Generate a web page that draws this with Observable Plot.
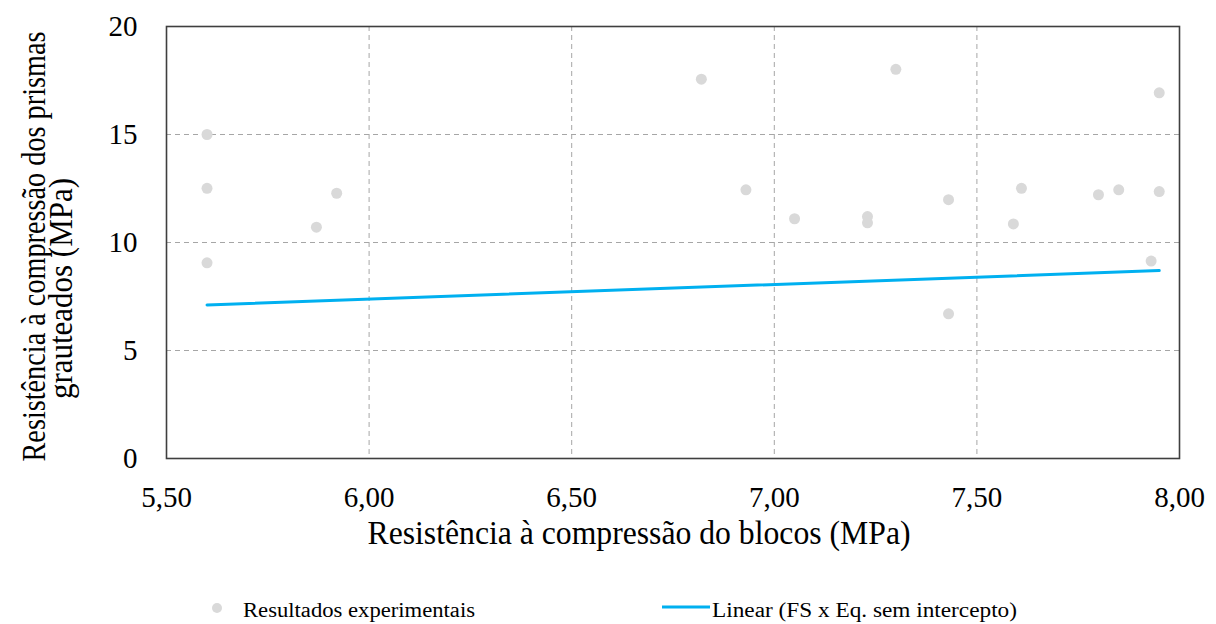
<!DOCTYPE html>
<html>
<head>
<meta charset="utf-8">
<script src="https://cdn.jsdelivr.net/npm/d3@7"></script>
<script src="https://cdn.jsdelivr.net/npm/@observablehq/plot@0.6"></script>
<style>
  html, body { margin: 0; padding: 0; background: #fff; }
  #chart svg { display: block; }
</style>
</head>
<body>
<div id="chart"></div>
<script>
// Block compressive strength (MPa) vs grouted prism compressive strength (MPa)
const blockStrength = [5.60, 5.60, 5.60, 5.87, 5.92, 6.82, 6.93, 7.05, 7.23, 7.23,
                       7.30, 7.43, 7.43, 7.59, 7.61, 7.80, 7.85, 7.95, 7.95, 7.93];
const prismStrength = [15.00, 12.51, 9.06, 10.71, 12.28, 17.56, 12.44, 11.10, 11.20, 10.91,
                       18.02, 11.98, 6.70, 10.86, 12.51, 12.21, 12.44, 16.93, 12.36, 9.14];

// Linear trend (FS x Eq. without intercept)
const fitX = [5.60, 7.95];
const fitY = [7.11, 8.70];

const xTicks = [5.5, 6.0, 6.5, 7.0, 7.5, 8.0];
const yTicks = [0, 5, 10, 15, 20];
const xGrid = [6.0, 6.5, 7.0, 7.5];
const yGrid = [5, 10, 15];

const xTitle = "Resistência à compressão do blocos (MPa)";
const yTitle1 = "Resistência à compressão dos prismas";
const yTitle2 = "grauteados (MPa)";
const legendLabels = ["Resultados experimentais", "Linear (FS x Eq. sem intercepto)"];

const points = blockStrength.map((x, i) => ({x, y: prismStrength[i]}));
const fit = fitX.map((x, i) => ({x, y: fitY[i]}));

const serif = "'Liberation Serif', 'Times New Roman', serif";
const gridStyle = {stroke: "#a6a6a6", strokeOpacity: 1, strokeWidth: 1, strokeDasharray: "5,4"};

const chart = Plot.plot({
  width: 1216,
  height: 560,
  marginLeft: 166,
  marginRight: 37,
  marginTop: 26,
  marginBottom: 102,
  x: {domain: [5.5, 8.0]},
  y: {domain: [0, 20]},
  style: {fontFamily: serif, fontSize: "29px", color: "#000", background: "#fff"},
  marks: [
    Plot.gridX(xGrid, gridStyle),
    Plot.gridY(yGrid, gridStyle),
    Plot.dot(points, {x: "x", y: "y", r: 5.5, fill: "#d9d9d9", stroke: "none"}),
    Plot.line(fit, {x: "x", y: "y", stroke: "#00b0f0", strokeWidth: 3}),
    Plot.frame({stroke: "#3f3f3f", strokeWidth: 1.6}),
    Plot.axisX({ticks: xTicks, tickFormat: d => d.toFixed(2).replace(".", ","),
                tickSize: 0, tickPadding: 28, label: null, fontSize: 29}),
    Plot.axisY({ticks: yTicks, tickFormat: d => String(d),
                tickSize: 0, tickPadding: 29, label: null, fontSize: 29}),
    Plot.text([xTitle], {text: d => d, frameAnchor: "bottom", dx: -34, dy: 85,
                         textAnchor: "middle", lineAnchor: "bottom", fontSize: 33}),
    Plot.text([yTitle1], {text: d => d, frameAnchor: "left", rotate: -90, dx: -122, dy: 4,
                          textAnchor: "middle", lineAnchor: "bottom", fontSize: 34}),
    Plot.text([yTitle2], {text: d => d, frameAnchor: "left", rotate: -90, dx: -95, dy: 46,
                          textAnchor: "middle", lineAnchor: "bottom", fontSize: 34})
  ]
});

// Condensed title lettering
const titleLengths = new Map([[xTitle, 543], [yTitle1, 430], [yTitle2, 221]]);
d3.select(chart).selectAll("text")
  .filter(function() { return titleLengths.has(this.textContent); })
  .each(function() {
    d3.select(this)
      .attr("textLength", titleLengths.get(this.textContent))
      .attr("lengthAdjust", "spacingAndGlyphs");
  });

document.getElementById("chart").appendChild(chart);

// Legend row under the chart
const legend = d3.select("#chart").append("svg")
  .attr("width", 1216).attr("height", 64)
  .style("display", "block")
  .style("font-family", serif);

legend.append("circle").attr("cx", 217).attr("cy", 48).attr("r", 5).attr("fill", "#d9d9d9");
legend.append("text").attr("x", 243).attr("y", 57).attr("font-size", 20)
  .attr("textLength", 232).attr("lengthAdjust", "spacingAndGlyphs")
  .text(legendLabels[0]);

legend.append("line").attr("x1", 662).attr("x2", 710).attr("y1", 47).attr("y2", 47)
  .attr("stroke", "#00b0f0").attr("stroke-width", 3);
legend.append("text").attr("x", 712).attr("y", 57).attr("font-size", 20)
  .attr("textLength", 305).attr("lengthAdjust", "spacingAndGlyphs")
  .text(legendLabels[1]);
</script>
</body>
</html>
